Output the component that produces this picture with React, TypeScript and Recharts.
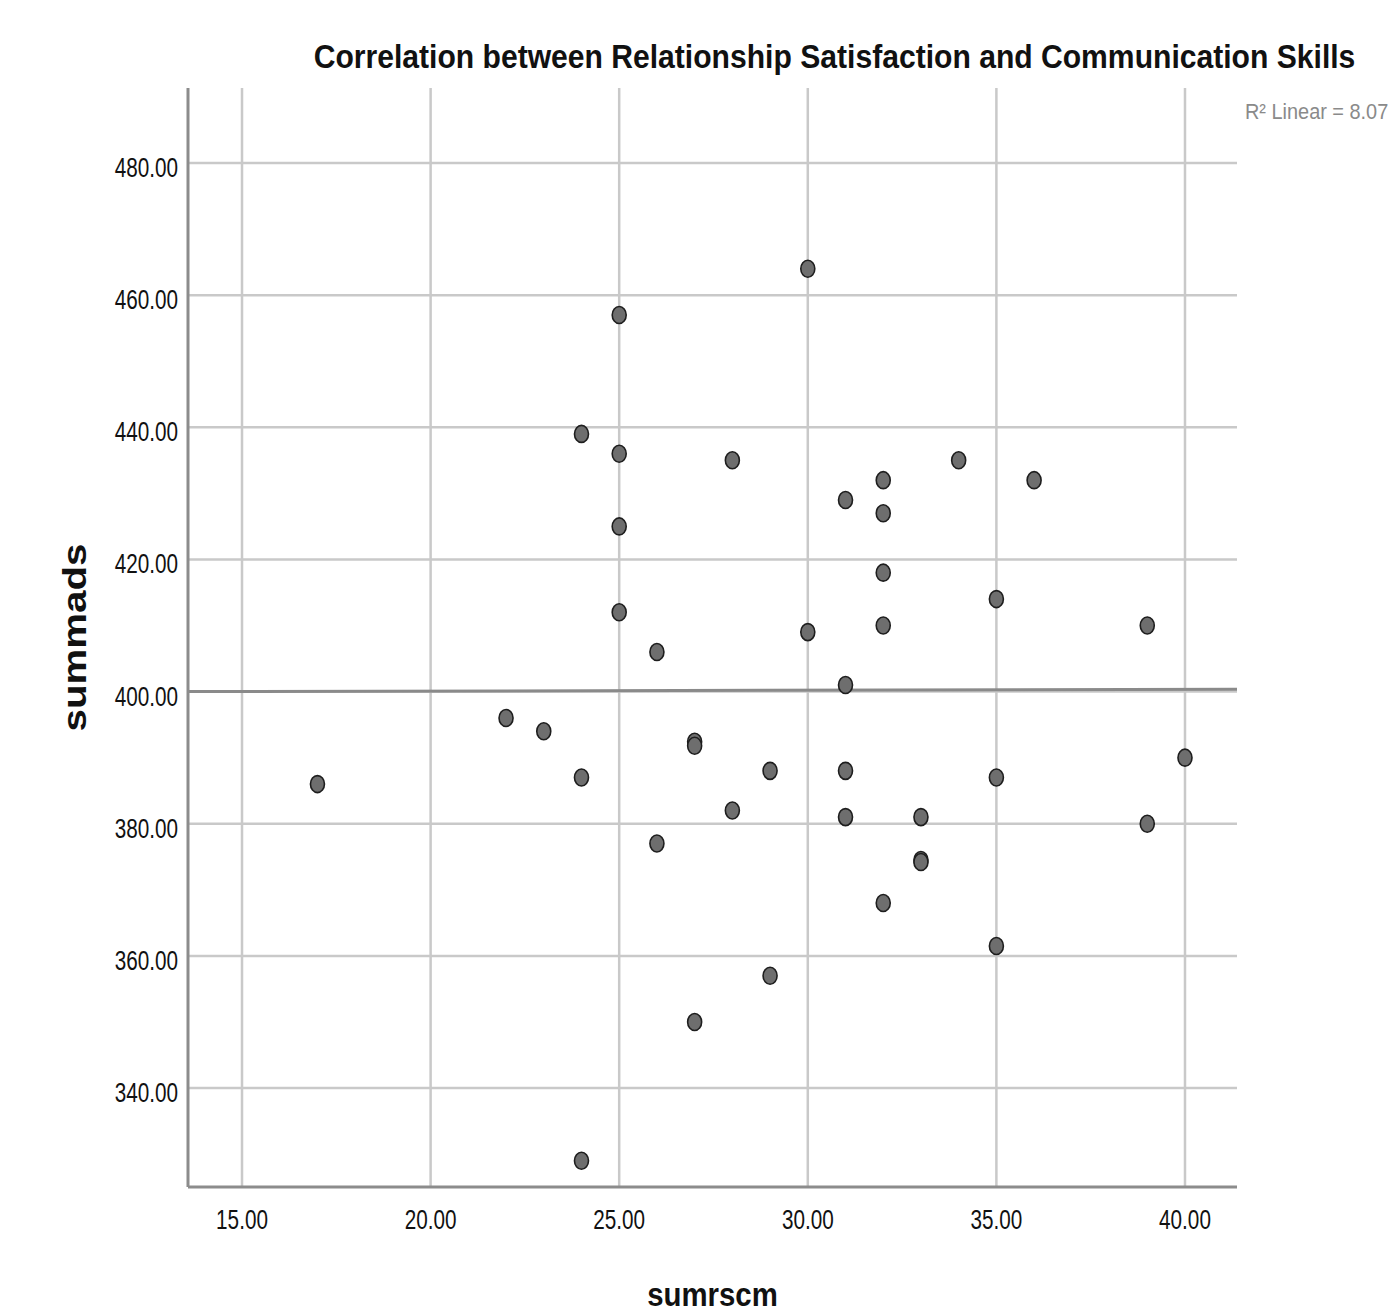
import React from "react";
import { ScatterChart, Scatter, XAxis, YAxis, CartesianGrid, ReferenceLine } from "recharts";

const sumrscm = [17, 22, 23, 24, 24, 24, 25, 25, 25, 25, 26, 26, 27, 27, 27, 28, 28, 29, 29, 30, 30, 31, 31, 31, 31, 32, 32, 32, 32, 32, 33, 33, 33, 34, 35, 35, 35, 36, 39, 39, 40];
const summads = [386, 396, 394, 387, 439, 329, 457, 436, 425, 412, 406, 377, 392.4, 391.8, 350, 435, 382, 388, 357, 464, 409, 429, 401, 388, 381, 432, 427, 418, 410, 368, 381, 374.5, 374.2, 435, 414, 387, 361.5, 432, 410, 380, 390];

const xTicks = [15, 20, 25, 30, 35, 40];
const yTicks = [340, 360, 380, 400, 420, 440, 460, 480];
const xDomain = [13.568, 41.379];
const yDomain = [325.02, 491.35];
const fitLineX = [13.568, 41.379];
const fitLineY = [400.0, 400.34];

const title = "Correlation between Relationship Satisfaction and Communication Skills";
const xLabel = "sumrscm";
const yLabel = "summads";
const fitLabel = "R\u00B2 Linear = 8.07";

const points = sumrscm.map((x, i) => ({ x, y: summads[i] }));

const FONT = "'Liberation Sans', Arial, sans-serif";

const XTick = (props: any) => {
  const { x, y, payload } = props;
  return (
    <g transform={`translate(${x},${y + 42})`}>
      <text transform="scale(0.74,1)" textAnchor="middle" fontSize={28} fontFamily={FONT} fill="#111">
        {Number(payload.value).toFixed(2)}
      </text>
    </g>
  );
};

const YTick = (props: any) => {
  const { x, y, payload } = props;
  return (
    <g transform={`translate(${x - 10},${y + 14})`}>
      <text transform="scale(0.74,1)" textAnchor="end" fontSize={28} fontFamily={FONT} fill="#111">
        {Number(payload.value).toFixed(2)}
      </text>
    </g>
  );
};

const Dot = (props: any) => {
  const { cx, cy } = props;
  return <ellipse cx={cx} cy={cy} rx={7} ry={8.5} fill="#6e6e6e" stroke="#1e1e1e" strokeWidth={1.6} />;
};

export default function App() {
  return (
    <div style={{ position: "absolute", left: 0, top: 0, width: 1391, height: 1312, background: "#fff" }}>
      <ScatterChart
        width={1391}
        height={1312}
        margin={{ top: 88, right: 154, bottom: 0, left: 0 }}
      >
        <CartesianGrid
          stroke="#c9c9c9"
          strokeWidth={2.5}
          horizontalValues={yTicks}
          verticalValues={xTicks}
        />
        <XAxis
          type="number"
          dataKey="x"
          domain={xDomain}
          ticks={xTicks}
          height={125}
          tickLine={false}
          tickSize={0}
          tickMargin={0}
          tick={<XTick />}
          axisLine={{ stroke: "#8c8c8c", strokeWidth: 3 }}
          allowDataOverflow
        />
        <YAxis
          type="number"
          dataKey="y"
          domain={yDomain}
          ticks={yTicks}
          width={188}
          tickLine={false}
          tickSize={0}
          tickMargin={0}
          tick={<YTick />}
          axisLine={{ stroke: "#8c8c8c", strokeWidth: 3 }}
          allowDataOverflow
        />
        <ReferenceLine
          segment={[
            { x: fitLineX[0], y: fitLineY[0] },
            { x: fitLineX[1], y: fitLineY[1] },
          ]}
          stroke="#8a8a8a"
          strokeWidth={3}
          ifOverflow="visible"
        />
        <Scatter data={points} shape={<Dot />} isAnimationActive={false} />
      </ScatterChart>
      <svg
        width={1391}
        height={1312}
        style={{ position: "absolute", left: 0, top: 0, pointerEvents: "none" }}
      >
        <g transform="translate(834.5,68)">
          <text
            transform="scale(0.912,1)"
            textAnchor="middle"
            fontSize={33}
            fontWeight="bold"
            fontFamily={FONT}
            fill="#111"
          >
            {title}
          </text>
        </g>
        <g transform="translate(712.5,1306)">
          <text
            transform="scale(0.89,1)"
            textAnchor="middle"
            fontSize={33}
            fontWeight="bold"
            fontFamily={FONT}
            fill="#111"
          >
            {xLabel}
          </text>
        </g>
        <g transform="translate(86,637.5) rotate(-90)">
          <text
            transform="scale(1.22,1)"
            textAnchor="middle"
            fontSize={33}
            fontWeight="bold"
            fontFamily={FONT}
            fill="#111"
          >
            {yLabel}
          </text>
        </g>
        <g transform="translate(1245,119)">
          <text transform="scale(0.905,1)" fontSize={22} fontFamily={FONT} fill="#8a8a8a">
            {fitLabel}
          </text>
        </g>
      </svg>
    </div>
  );
}
